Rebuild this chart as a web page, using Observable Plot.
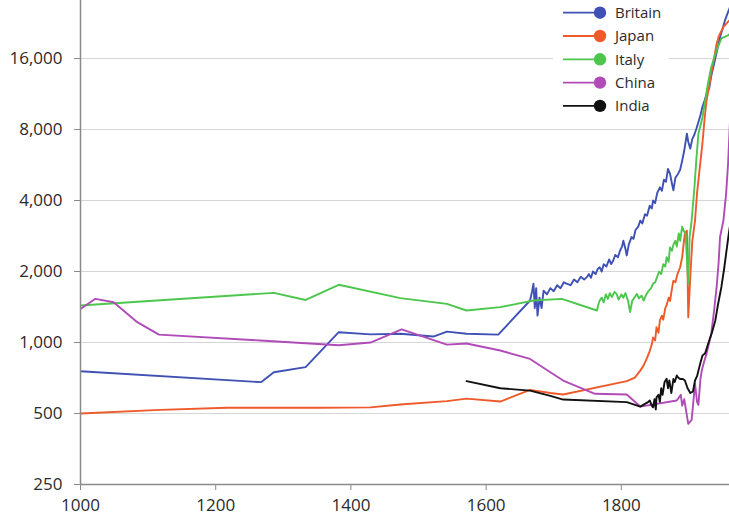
<!DOCTYPE html>
<html>
<head>
<meta charset="utf-8">
<script src="https://cdn.jsdelivr.net/npm/d3@7"></script>
<script src="https://cdn.jsdelivr.net/npm/@observablehq/plot@0.6"></script>
<style>
  html, body { margin: 0; padding: 0; background: #fff; }
  #wrap { position: relative; width: 729px; height: 531px; font-family: "Open Sans", "Noto Sans", sans-serif; }
  #legend { position: absolute; left: 553px; top: 0px; }
</style>
</head>
<body>
<div id="wrap"><div id="chart"></div><div id="legend"></div></div>
<script>
// ---- data ----
const countries = ["Britain", "Japan", "Italy", "China", "India"];
const colors = ["#3f51b5", "#ee5a2a", "#4cc64c", "#b04bb8", "#111111"];

const britainYears = [1000,1267,1286,1333,1382,1429,1473,1522,1542,1571,1618,1665,1668,1670,1672,1674,1676,1679,1682,1685,1690,1695,1700,1705,1710,1715,1719,1725,1730,1735,1740,1745,1749,1752,1755,1758,1762,1765,1768,1771,1774,1778,1782,1785,1788,1791,1795,1798,1801,1803,1806,1808,1811,1815,1818,1821,1825,1828,1831,1835,1838,1842,1845,1847,1850,1853,1857,1860,1863,1866,1869,1872,1875,1877,1880,1884,1887,1890,1893,1897,1899,1902,1905,1908,1911,1914,1917,1920,1923,1926,1930,1933,1936,1940,1943,1946,1950,1953,1957,1962];
const britainValues = [755,679,748,786,1106,1083,1090,1060,1112,1090,1080,1507,1650,1777,1400,1700,1300,1550,1400,1660,1600,1700,1650,1750,1700,1800,1777,1750,1850,1800,1900,1850,1893,1950,1880,2000,1950,2050,2085,2000,2150,2100,2250,2150,2228,2350,2300,2450,2550,2700,2500,2340,2600,2800,2750,3000,3100,3288,3200,3500,3450,3800,3700,4000,3900,4300,4550,4400,4900,4800,5450,5200,4700,4420,5000,5200,5400,5900,6500,7680,7100,6640,7300,7600,8060,8600,9200,10000,10600,11300,12000,13500,14700,16500,18000,19700,21500,23100,24800,27000];

const japanYears = [1000,1118,1217,1355,1429,1473,1542,1571,1621,1665,1695,1714,1808,1820,1828,1833,1838,1842,1845,1847,1850,1852,1855,1857,1860,1862,1865,1867,1870,1872,1875,1877,1880,1883,1887,1890,1892,1894,1897,1899,1902,1905,1909,1912,1916,1920,1923,1926,1930,1933,1937,1941,1944,1946,1951,1957,1962];
const japanValues = [500,518,529,529,531,546,564,578,562,630,611,602,686,710,760,800,860,920,980,1050,1020,1160,1100,1240,1300,1250,1400,1440,1550,1500,1700,1830,1800,1950,2085,2300,2600,2900,2980,1280,1900,2700,3290,4300,5500,7000,8800,10600,12300,13800,16000,18500,19800,20400,21800,22800,23500];

const italyYears = [1000,1286,1333,1382,1473,1542,1571,1621,1670,1712,1764,1766,1768,1771,1774,1777,1780,1783,1786,1790,1793,1796,1800,1803,1806,1810,1813,1816,1820,1823,1826,1830,1833,1837,1840,1844,1847,1850,1853,1856,1859,1862,1865,1867,1870,1872,1875,1877,1880,1882,1885,1887,1890,1892,1895,1899,1901,1904,1908,1911,1914,1920,1924,1928,1933,1937,1941,1948,1957,1962];
const italyValues = [1435,1624,1515,1757,1543,1458,1367,1412,1507,1532,1367,1450,1507,1550,1480,1600,1530,1620,1560,1640,1607,1520,1600,1550,1620,1500,1345,1500,1560,1607,1540,1580,1507,1600,1650,1700,1777,1800,1900,2000,1950,2150,2100,2300,2200,2530,2450,2600,2700,2550,2900,2700,3100,2980,2900,1777,2800,3290,4500,6000,7680,9000,10600,12500,14700,16000,17350,19500,20000,20500];

const chinaYears = [1000,1022,1049,1084,1116,1266,1382,1429,1475,1542,1571,1621,1665,1695,1714,1761,1808,1828,1882,1888,1890,1893,1899,1904,1909,1912,1914,1917,1919,1922,1926,1930,1933,1937,1941,1944,1946,1951,1955,1958,1962];
const chinaValues = [1388,1532,1482,1220,1080,1020,973,1000,1137,980,990,925,852,748,690,606,602,535,568,600,540,575,452,470,667,560,544,700,761,820,895,1000,1090,1350,1720,2200,2800,3290,4280,5800,10500];

const indiaYears = [1571,1621,1665,1695,1714,1808,1828,1840,1842,1845,1847,1849,1851,1852,1855,1857,1859,1861,1864,1867,1869,1871,1874,1877,1879,1882,1884,1887,1891,1894,1898,1902,1906,1909,1912,1916,1920,1924,1929,1934,1939,1943,1948,1952,1955,1959,1962];
const indiaValues = [686,640,625,594,573,559,535,560,568,540,531,575,520,585,600,560,640,600,680,702,640,690,611,700,680,725,710,700,700,690,640,611,620,690,720,800,880,900,1000,1100,1240,1450,1720,2050,2380,2900,3300];

const xTicks = [1000, 1200, 1400, 1600, 1800];
const yTicks = [250, 500, 1000, 2000, 4000, 8000, 16000];
const gridTicks = [500, 1000, 2000, 4000, 8000, 16000];

// ---- build table ----
const seriesYears = [britainYears, japanYears, italyYears, chinaYears, indiaYears];
const seriesValues = [britainValues, japanValues, italyValues, chinaValues, indiaValues];
const rows = [];
countries.forEach((c, i) => {
  seriesYears[i].forEach((yr, j) => rows.push({country: c, year: yr, value: seriesValues[i][j]}));
});

const axisColor = "#8a8a8a";
const textColor = "#2b2b2b";
const fmt = d3.format(",");

const chart = Plot.plot({
  width: 729,
  height: 531,
  marginLeft: 80,
  marginRight: 0,
  marginTop: 0,
  marginBottom: 47,
  style: {fontFamily: '"Open Sans", "Noto Sans", sans-serif', background: "#fff", overflow: "visible"},
  x: {domain: [1000, 1960], axis: null},
  y: {type: "log", domain: [250, 28200], axis: null},
  color: {domain: countries, range: colors},
  marks: [
    Plot.ruleY(gridTicks, {stroke: "#d6d6d6", strokeWidth: 1}),
    Plot.line(rows, {x: "year", y: "value", z: "country", stroke: "country", strokeWidth: 1.9, clip: true}),
    Plot.ruleX([1000], {stroke: axisColor, strokeWidth: 1.5}),
    Plot.ruleY([250], {stroke: axisColor, strokeWidth: 1.5}),
    Plot.tickY(yTicks, {y: d => d, stroke: axisColor, insetLeft: -6, insetRight: 649}),
    Plot.text(yTicks, {y: d => d, text: d => fmt(d), frameAnchor: "left", textAnchor: "end", dx: -18, fill: textColor, fontSize: 17}),
    Plot.axisX({ticks: xTicks, tickFormat: d => String(d), tickSize: 6, tickPadding: 8, stroke: axisColor, fill: textColor, fontSize: 17, label: null})
  ]
});
document.getElementById("chart").appendChild(chart);

// ---- legend ----
const lg = d3.select("#legend").append("svg").attr("width", 116).attr("height", 118);
lg.append("rect").attr("width", 116).attr("height", 118).attr("fill", "#fff");
countries.forEach((c, i) => {
  const y = 12.7 + 23.3 * i;
  lg.append("line").attr("x1", 10).attr("x2", 47).attr("y1", y).attr("y2", y)
    .attr("stroke", colors[i]).attr("stroke-width", 1.8);
  lg.append("circle").attr("cx", 47).attr("cy", y).attr("r", 6.2).attr("fill", colors[i]);
  lg.append("text").attr("x", 62).attr("y", y).attr("dy", "0.36em")
    .attr("font-size", 15).attr("fill", textColor)
    .attr("font-family", '"Open Sans", "Noto Sans", sans-serif').text(c);
});
</script>
</body>
</html>
